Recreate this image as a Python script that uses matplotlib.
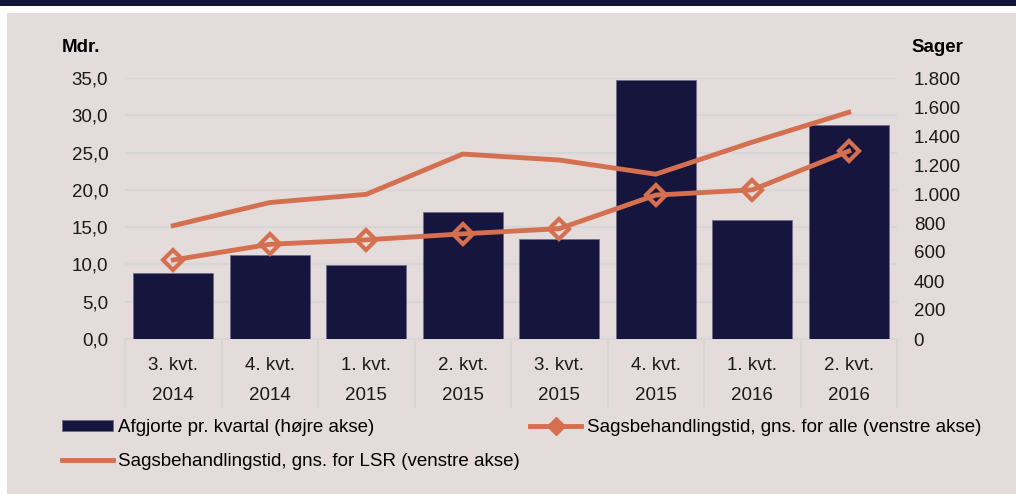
import matplotlib.pyplot as plt
import matplotlib.ticker as mticker
from matplotlib.patches import Rectangle
from matplotlib.lines import Line2D

plt.rcParams['font.family'] = ['Liberation Sans', 'DejaVu Sans']

# Data
quarters = ['3. kvt.\n2014', '4. kvt.\n2014', '1. kvt.\n2015', '2. kvt.\n2015',
            '3. kvt.\n2015', '4. kvt.\n2015', '1. kvt.\n2016', '2. kvt.\n2016']
afgjorte = [453, 577, 510, 876, 688, 1786, 821, 1478]          # right axis, cases
tid_alle = [10.6, 12.7, 13.3, 14.1, 14.8, 19.3, 20.0, 25.2]     # left axis
tid_lsr = [15.2, 18.3, 19.4, 24.8, 24.0, 22.1, 26.4, 30.4]      # left axis

bg = '#E3DCDB'
navy = '#16153D'
orange = '#D4704F'
gridc = '#D6D6D9'
fs = 13.5

W, H = 1016, 494
fig = plt.figure(figsize=(W / 100, H / 100), dpi=100, facecolor=bg)

# top dark strip and white frame edges
fig.patches.append(Rectangle((0, 1 - 13 / H), 1, 13 / H, transform=fig.transFigure,
                             facecolor='white', edgecolor='none', zorder=0))
fig.patches.append(Rectangle((0, 1 - 6 / H), 1, 6 / H, transform=fig.transFigure,
                             facecolor='#15153C', edgecolor='none', zorder=1))
fig.patches.append(Rectangle((0, 0), 7 / W, 1, transform=fig.transFigure,
                             facecolor='white', edgecolor='none', zorder=0))

rect = [125 / W, 1 - 339 / H, (897 - 125) / W, (339 - 78) / H]
x = list(range(len(quarters)))

# grid / left axis layer
ax = fig.add_axes(rect)
ax.set_facecolor(bg)
ax.set_xlim(-0.5, len(quarters) - 0.5)
ax.set_ylim(0, 35)
ax.set_yticks([0, 5, 10, 15, 20, 25, 30, 35])
ax.yaxis.set_major_formatter(mticker.FuncFormatter(lambda v, p: f'{v:.1f}'.replace('.', ',')))
ax.grid(axis='y', color=gridc, linewidth=1.5)
ax.set_axisbelow(True)
ax.set_xticks(x)
ax.set_xticklabels(quarters, linespacing=2.0)
ax.set_xticks([i - 0.5 for i in range(len(quarters) + 1)], minor=True)
ax.tick_params(axis='x', which='major', length=0, pad=13, labelsize=fs, colors='#1a1a1a')
ax.tick_params(axis='x', which='minor', length=50, width=1.5, color=gridc, direction='out')
ax.tick_params(axis='y', length=0, pad=12, labelsize=fs, colors='#1a1a1a')
for s in ['top', 'right', 'left']:
    ax.spines[s].set_visible(False)
ax.spines['bottom'].set_color(gridc)
ax.spines['bottom'].set_linewidth(1.5)

# bars on right axis
axb = ax.twinx()
axb.set_ylim(0, 1800)
axb.set_yticks(range(0, 1801, 200))
axb.yaxis.set_major_formatter(mticker.FuncFormatter(lambda v, p: f'{int(v):,}'.replace(',', '.')))
axb.tick_params(axis='y', length=0, pad=12, labelsize=fs, colors='#1a1a1a')
bars = axb.bar(x, afgjorte, width=0.83, color=navy, edgecolor='#6f6c8a', linewidth=0.6)
for s in axb.spines.values():
    s.set_visible(False)

# lines on top
axl = ax.twinx()
axl.set_ylim(0, 35)
axl.set_yticks([])
for s in axl.spines.values():
    s.set_visible(False)
axl.plot(x, tid_alle, color=orange, linewidth=3.5, marker='D', markersize=10,
         markerfacecolor='none', markeredgecolor=orange, markeredgewidth=3)
l_lsr, = axl.plot(x, tid_lsr, color=orange, linewidth=3.5)

fig.text(62 / W, 1 - 47 / H, 'Mdr.', fontsize=fs, fontweight='bold', va='center', ha='left')
fig.text(911 / W, 1 - 47 / H, 'Sager', fontsize=fs, fontweight='bold', va='center', ha='left')

alle_handle = Line2D([], [], color=orange, linewidth=3.5, marker='D', markersize=9,
                     markerfacecolor=orange, markeredgecolor=orange)
fig.legend([bars, l_lsr, alle_handle],
           ['Afgjorte pr. kvartal (højre akse)',
            'Sagsbehandlingstid, gns. for LSR (venstre akse)',
            'Sagsbehandlingstid, gns. for alle (venstre akse)'],
           loc='upper left', bbox_to_anchor=(62 / W, 1 - 419 / H), ncol=2,
           frameon=False, fontsize=fs, borderpad=0, borderaxespad=0,
           handlelength=2.7, handleheight=0.55, handletextpad=0.3,
           labelspacing=0.9, columnspacing=0.55)

fig.savefig('out.png', dpi=100, facecolor=bg)
